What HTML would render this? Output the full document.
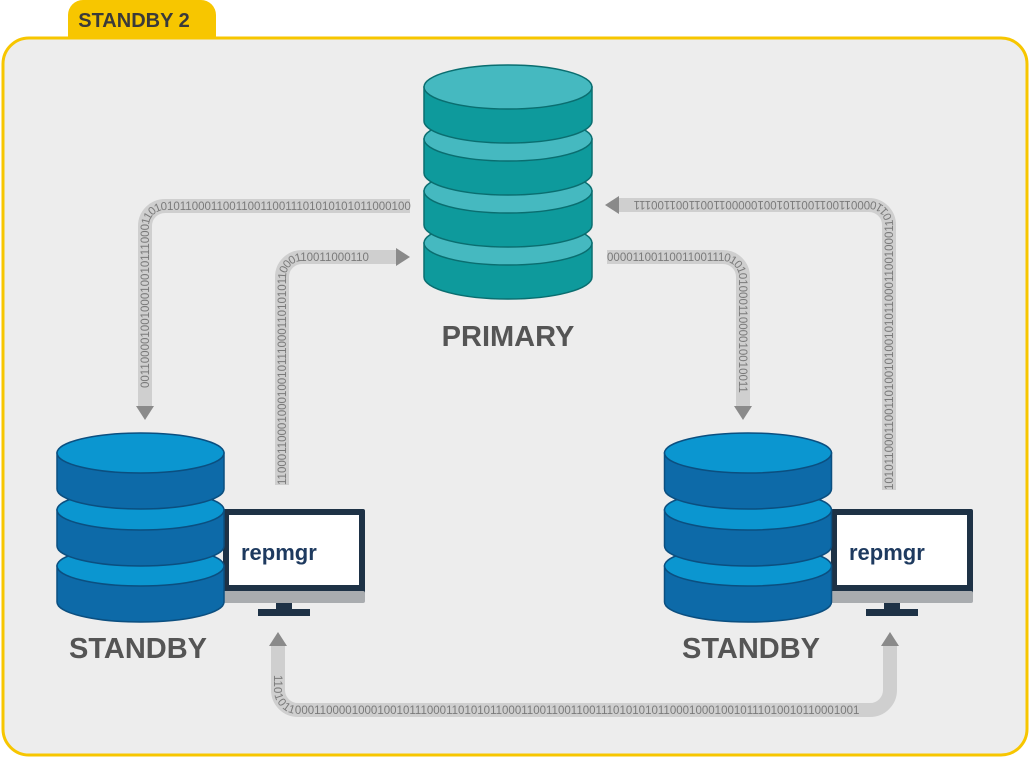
<!DOCTYPE html>
<html><head><meta charset="utf-8"><style>
html,body{margin:0;padding:0;background:#fff;}
svg{display:block;font-family:"Liberation Sans",sans-serif;}
</style></head><body>
<svg width="1030" height="758" viewBox="0 0 1030 758" xmlns="http://www.w3.org/2000/svg">
<defs>
<g id="sseg">
 <path d="M-83.5,0 V36 A83.5,20 0 0 0 83.5,36 V0 Z" fill="#0d6aa8" stroke="#0b4f80" stroke-width="1.5"/>
 <ellipse cx="0" cy="0" rx="83.5" ry="20" fill="#0b96d0" stroke="#0b4f80" stroke-width="1.5"/>
</g>
<g id="pseg">
 <path d="M-84,0 V34 A84,22 0 0 0 84,34 V0 Z" fill="#0e9a9c" stroke="#0a6e70" stroke-width="1.5"/>
 <ellipse cx="0" cy="0" rx="84" ry="22" fill="#45b9c0" stroke="#0a6e70" stroke-width="1.5"/>
</g>
<g id="mon">
 <rect x="0" y="0" width="142" height="86" rx="2" fill="#1e3246"/>
 <rect x="6" y="6" width="130" height="70" fill="#fff"/>
 <rect x="0" y="82" width="142" height="12" rx="2" fill="#a9acaf"/>
 <rect x="53" y="94" width="16" height="7" fill="#1e3246"/>
 <rect x="35" y="100" width="52" height="7" fill="#1e3246"/>
 <text x="18" y="51" font-size="22" font-weight="bold" fill="#1e3a5f">repmgr</text>
</g>
</defs>
<!-- frame -->
<path d="M68,37 V15 A15,15 0 0 1 83,0 H201 A15,15 0 0 1 216,15 V37 Z" fill="#f7c600"/>
<text x="134" y="27" font-size="20" font-weight="bold" fill="#3a3a3a" text-anchor="middle">STANDBY 2</text>
<rect x="3" y="38" width="1024" height="717" rx="26" fill="#ededed" stroke="#f7c600" stroke-width="3"/>

<!-- connectors -->
<g fill="none" stroke="#cfcfcf" stroke-width="14">
 <path id="pA" d="M145,408 V226 A20,20 0 0 1 165,206 H410"/>
 <path id="pB" d="M282,485 V277 A20,20 0 0 1 302,257 H398"/>
 <path id="pC" d="M607,257 H723 A20,20 0 0 1 743,277 V408"/>
 <path id="pD" d="M889,490 V225 A20,20 0 0 0 869,205 H618"/>
 <path id="pE" d="M278,645 V690 A20,20 0 0 0 298,710 H870 A20,20 0 0 0 890,690 V645"/>
</g>
<g fill="#8a8a8a">
 <path d="M136,406 H154 L145,420 Z"/>
 <path d="M396,248 V266 L410,257 Z"/>
 <path d="M734,406 H752 L743,420 Z"/>
 <path d="M619,196 V214 L605,205 Z"/>
 <path d="M269,646 H287 L278,632 Z"/>
 <path d="M881,646 H899 L890,632 Z"/>
</g>
<g font-size="11.5" fill="#7a7a7a" font-family="Liberation Sans, sans-serif">
 <text dy="4"><textPath href="#pA" startOffset="20">00110000100100010010111000110101011000110011001100111010101010110001000</textPath></text>
 <text dy="4"><textPath href="#pB">1100011000100010010111000110101011000110011000110</textPath></text>
 <text dy="4"><textPath href="#pC">000011001100110011101010100011000010010011</textPath></text>
 <text dy="4"><textPath href="#pD">1010110001100110100101001010110001100100011011000011001100110100100000110011001100111</textPath></text>
 <text dy="4"><textPath href="#pE" startOffset="30">1101011000110000100010010111000110101011000110011001100111010101011000100010010111010010110001001</textPath></text>
</g>

<!-- primary -->
<g transform="translate(508,0)">
 <use href="#pseg" y="243"/>
 <use href="#pseg" y="191"/>
 <use href="#pseg" y="139"/>
 <use href="#pseg" y="87"/>
</g>
<text x="508" y="346" font-size="29" font-weight="bold" fill="#555" text-anchor="middle">PRIMARY</text>

<!-- left standby -->
<use href="#mon" x="223" y="509"/>
<g transform="translate(140.5,0)">
 <use href="#sseg" y="566"/>
 <use href="#sseg" y="510"/>
 <use href="#sseg" y="453"/>
</g>
<text x="138" y="658" font-size="29" font-weight="bold" fill="#555" text-anchor="middle">STANDBY</text>

<!-- right standby -->
<use href="#mon" x="831" y="509"/>
<g transform="translate(748,0)">
 <use href="#sseg" y="566"/>
 <use href="#sseg" y="510"/>
 <use href="#sseg" y="453"/>
</g>
<text x="751" y="658" font-size="29" font-weight="bold" fill="#555" text-anchor="middle">STANDBY</text>
</svg>
</body></html>
